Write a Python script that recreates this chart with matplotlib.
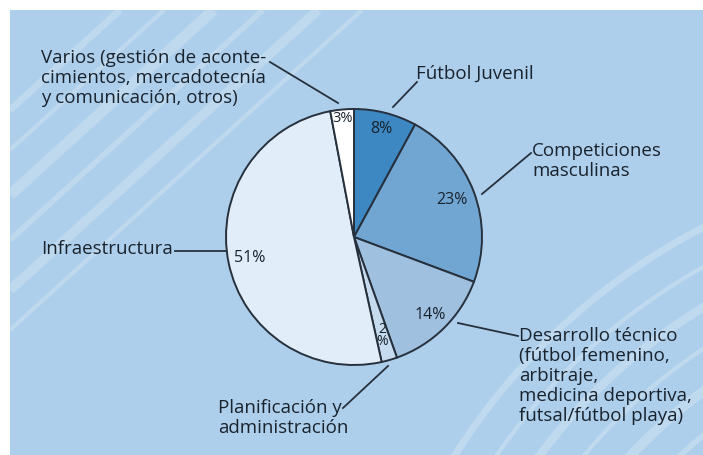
import numpy as np
import matplotlib
matplotlib.use("Agg")
import matplotlib.pyplot as plt
from matplotlib.patches import Rectangle

plt.rcParams['font.family'] = ['Open Sans', 'DejaVu Sans']

# slices, clockwise from 12 o'clock
labels = ["Fútbol Juvenil", "Competiciones\nmasculinas",
          "Desarrollo técnico\n(fútbol femenino,\narbitraje,\nmedicina deportiva,\nfutsal/fútbol playa)",
          "Planificación y\nadministración", "Infraestructura",
          "Varios (gestión de aconte-\ncimientos, mercadotecnía\ny comunicación, otros)"]
values = [8, 23, 14, 2, 51, 3]
pct_text = ["8%", "23%", "14%", "2\n%", "51%", "3%"]
colors = ["#3d88c3", "#72a6d2", "#9fc0df", "#c7dbee", "#e1edf8", "#ffffff"]

W, H = 703, 455
BG = "#aecfeb"
INK = "#19232e"

def py(y):
    # pixel row -> data y
    return H - y

fig = plt.figure(figsize=(W / 100, H / 100), dpi=100)
fig.patch.set_facecolor("white")
ax = fig.add_axes([0, 0, 1, 1])

cx, cy, R = 354, py(237), 128
wedges, _ = ax.pie(values, colors=colors, startangle=90, counterclock=False,
                   center=(cx, cy), radius=R,
                   wedgeprops=dict(edgecolor="#26313d", linewidth=1.4))
for w in wedges:
    w.set_zorder(5)

ax.set_xlim(0, W)
ax.set_ylim(0, H)
ax.set_aspect("auto")
ax.axis("off")

# background panel + light stripes
panel = Rectangle((10, 0), W - 10, H - 10, facecolor=BG, edgecolor="none", zorder=0)
ax.add_patch(panel)
for off, lw in [(100, 5), (140, 3), (185, 8), (230, 4), (280, 7), (320, 3)]:
    l, = ax.plot([10, 10 + off * 1.1], [py(10 + off), py(10)], color="white",
                 alpha=0.2, lw=lw, solid_capstyle="butt", zorder=1)
    l.set_clip_path(panel)
for r0, lw in [(470, 4), (505, 7), (540, 3), (575, 6), (610, 3), (645, 5)]:
    ang = np.radians(np.linspace(95, 175, 80))
    xs = 1000 + r0 * np.cos(ang)
    ys = -345 + r0 * np.sin(ang)
    l, = ax.plot(xs, ys, color="white", alpha=0.22, lw=lw, zorder=1)
    l.set_clip_path(panel)

# percentage labels inside slices
pct_r = [0.87, 0.82, 0.85, 0.8, 0.83, 0.93]
pct_size = [11.5, 11.5, 11.5, 10, 11.5, 10.5]
for w, s, fr, fs in zip(wedges, pct_text, pct_r, pct_size):
    th = np.radians((w.theta1 + w.theta2) / 2)
    ax.text(cx + fr * R * np.cos(th), cy + fr * R * np.sin(th), s,
            ha="center", va="center", fontsize=fs, color=INK, zorder=6,
            linespacing=0.8)

# outside labels with leader lines (label anchor, line start, line end) in pixels
label_pos = [(416, 74), (532, 161), (519, 376), (218, 418), (41, 249), (41, 78)]
leaders = [((417, 82), (393, 107)), ((531, 153), (482, 194)),
           ((518, 336), (458, 323)), ((343, 408), (388, 366)),
           ((175, 251), (226, 251)), ((270, 62), (338, 103))]
for lab, (lx, ly), (p0, p1) in zip(labels, label_pos, leaders):
    ax.text(lx, py(ly), lab, ha="left", va="center", fontsize=13.5,
            color=INK, linespacing=1.13, zorder=6)
    ax.plot([p0[0], p1[0]], [py(p0[1]), py(p1[1])], color="#26313d",
            lw=1.3, zorder=6)

fig.savefig("out.png", dpi=100, facecolor="white")
